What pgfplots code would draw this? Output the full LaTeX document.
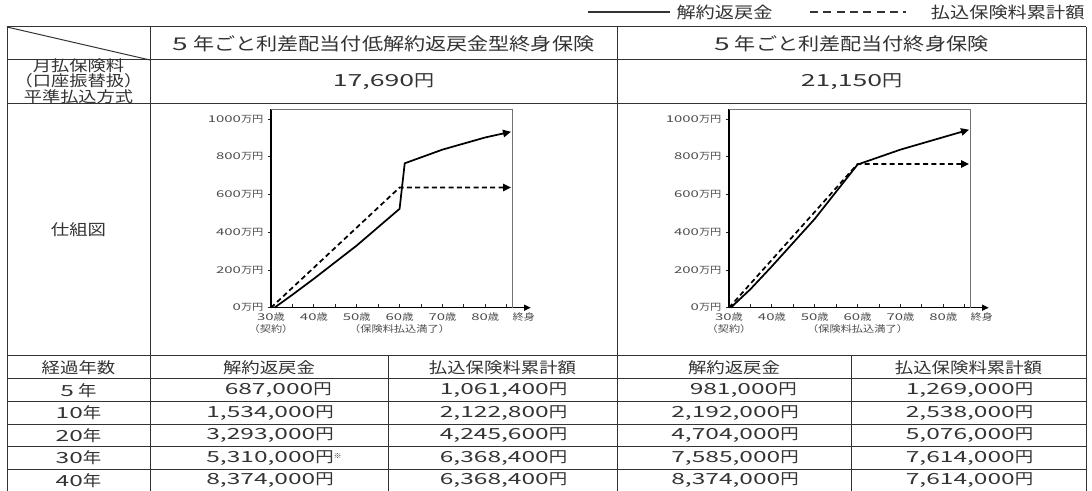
\documentclass[border=0pt]{standalone}
\usepackage{fontspec}
\setmainfont[FakeStretch=1.2]{Noto Sans CJK JP}
\newfontfamily\numfont[FakeStretch=1.6]{Noto Sans CJK JP}
\usepackage{pgfplots}
\pgfplotsset{compat=1.18}
\usetikzlibrary{arrows.meta}
\newcommand\fs[1]{\fontsize{#1}{#1}\selectfont}
\newcommand\n[1]{{\numfont #1}}
\definecolor{ink}{gray}{0.2}
\definecolor{ticktext}{gray}{0.3}

% one row of the lower table: y, years, four amounts
\newcommand\row[6]{%
  \node at (78.5,#1) {#2};
  \node[text width=94pt, align=right] at (269,#1) {#3};
  \node[text width=94pt, align=right] at (502.5,#1) {#4};
  \node[text width=94pt, align=right] at (734,#1) {#5};
  \node[text width=94pt, align=right] at (968.5,#1) {#6};
}

\pgfplotsset{shikumi/.style={
  scale only axis, width=181.3pt, height=148.8pt, anchor=south west,
  xmin=30, xmax=86.4, ymin=0, ymax=1051, clip=false,
  axis lines*=left,
  x axis line style={draw=none},
  y axis line style={draw=black, line width=0.9pt},
  xtick={30,40,...,80}, minor xtick={35,45,...,85},
  ytick={0,200,...,1000},
  tick align=inside,
  major tick length=2.5pt, minor tick length=2.5pt,
  tick style={black!85, line width=0.6pt},
  every y tick/.style={xshift=-2.5pt},
  xticklabels={{\n{30}歳\\（契約）},\n{40}歳,\n{50}歳,{\n{60}歳\\（保険料払込満了）},\n{70}歳,\n{80}歳},
  yticklabels={\n{0}万円,\n{200}万円,\n{400}万円,\n{600}万円,\n{800}万円,\n{1000}万円},
  yticklabel style={inner sep=0pt, xshift=-5.5pt, font=\fs{7pt}, text=ticktext},
  xticklabel style={align=center, inner sep=0pt, yshift=-3.5pt,
    font=\fontsize{7pt}{9pt}\selectfont, text=ticktext},
}}

\begin{document}
\begin{tikzpicture}
\path[use as bounding box] (0pt,0pt) rectangle (819pt,-368.25pt);

\begin{scope}[x=0.75pt, y=-0.75pt, line width=0.75pt, draw=ink, text=ink]
  % legend
  \draw[line width=0.9pt] (588,12) -- (670,12);
  \node[anchor=east, font=\fs{12pt}, inner sep=0pt] at (773,12) {解約返戻金};
  \draw[line width=0.9pt, dash pattern=on 6pt off 4pt] (810,12) -- (906,12);
  \node[anchor=east, font=\fs{12pt}, inner sep=0pt] at (1085,12) {払込保険料累計額};

  % table rules
  \foreach \yy in {27,60,103.3,356,379,401.7,424.3,446.7,469.3}
    \draw (7,\yy) -- (1086,\yy);
  \foreach \xx in {7,150,617,1086}
    \draw (\xx,27) -- (\xx,491);
  \foreach \xx in {388,851}
    \draw (\xx,356) -- (\xx,491);
  \draw (7,27) -- (150,60);

  % upper cells
  \node[font=\fs{13.2pt}] at (383.5,43.5) {\n{5} 年ごと利差配当付低解約返戻金型終身保険};
  \node[font=\fs{13.2pt}] at (851.5,43.5) {\n{5} 年ごと利差配当付終身保険};
  \node[font=\fontsize{11.4pt}{10.3pt}\selectfont, align=center, inner sep=0pt]
    at (78.5,81.2) {月払保険料\\（口座振替扱）\\平準払込方式};
  \node[font=\fs{12.5pt}] at (383.5,81.7) {\n{17,690}円};
  \node[font=\fs{12.5pt}] at (851.5,81.7) {\n{21,150}円};
  \node[font=\fs{11.5pt}] at (78.5,230) {仕組図};

  % lower table
  \begin{scope}[every node/.style={font=\fs{11.5pt}, inner sep=0pt}]
    \node at (78.5,367.5) {経過年数};
    \node at (269,367.5) {解約返戻金};
    \node at (502.5,367.5) {払込保険料累計額};
    \node at (734,367.5) {解約返戻金};
    \node at (968.5,367.5) {払込保険料累計額};
    \row{390.3}{\n{5} 年}{\n{687,000}円}{\n{1,061,400}円}{\n{981,000}円}{\n{1,269,000}円}
    \row{413}{\n{10}年}{\n{1,534,000}円}{\n{2,122,800}円}{\n{2,192,000}円}{\n{2,538,000}円}
    \row{435.5}{\n{20}年}{\n{3,293,000}円}{\n{4,245,600}円}{\n{4,704,000}円}{\n{5,076,000}円}
    \row{458}{\n{30}年}{\n{5,310,000}円\rlap{\raisebox{3pt}{\fs{5pt}※}}}{\n{6,368,400}円}{\n{7,585,000}円}{\n{7,614,000}円}
    \row{480.2}{\n{40}年}{\n{8,374,000}円}{\n{6,368,400}円}{\n{8,374,000}円}{\n{7,614,000}円}
  \end{scope}
\end{scope}

% left chart
\begin{axis}[shikumi, at={(203.25pt,-230.78pt)}]
  \draw[black, line width=0.9pt, -{Triangle[length=5pt,width=4.5pt]}]
    (axis cs:30,0) -- (axis cs:90.6,0);
  \draw[black!55, line width=0.9pt]
    (rel axis cs:0,1) -- (rel axis cs:1,1) -- (rel axis cs:1,0);
  \node[anchor=north, inner sep=0pt, font=\fs{7pt}, text=ticktext]
    at ([yshift=-3.5pt]axis cs:89,0) {終身};
  \addplot[black, line width=1.3pt, mark=none, -{Triangle[length=6pt,width=5.5pt]}]
    coordinates {(30.8,0) (35,68.7) (40,153.4) (50,329.3) (60,524)
                 (61.2,765) (70,837.4) (80,902) (86,932)};
  \addplot[black, line width=1.3pt, mark=none, dash pattern=on 3.75pt off 2.5pt,
    -{Triangle[length=6pt,width=5.5pt]}]
    coordinates {(30,0) (60,636.8) (86,636.8)};
\end{axis}

% right chart
\begin{axis}[shikumi, at={(546.75pt,-230.78pt)}]
  \draw[black, line width=0.9pt, -{Triangle[length=5pt,width=4.5pt]}]
    (axis cs:30,0) -- (axis cs:90.6,0);
  \draw[black!55, line width=0.9pt]
    (rel axis cs:0,1) -- (rel axis cs:1,1) -- (rel axis cs:1,0);
  \node[anchor=north, inner sep=0pt, font=\fs{7pt}, text=ticktext]
    at ([yshift=-3.5pt]axis cs:89,0) {終身};
  \addplot[black, line width=1.3pt, mark=none, -{Triangle[length=6pt,width=5.5pt]}]
    coordinates {(30.4,0) (35,98.1) (40,219.2) (50,470.4) (60,758.5)
                 (70,837.4) (86,943)};
  \addplot[black, line width=1.3pt, mark=none, dash pattern=on 3.75pt off 2.5pt,
    -{Triangle[length=6pt,width=5.5pt]}]
    coordinates {(30,0) (60,761.4) (86,761.4)};
\end{axis}
\end{tikzpicture}
\end{document}
